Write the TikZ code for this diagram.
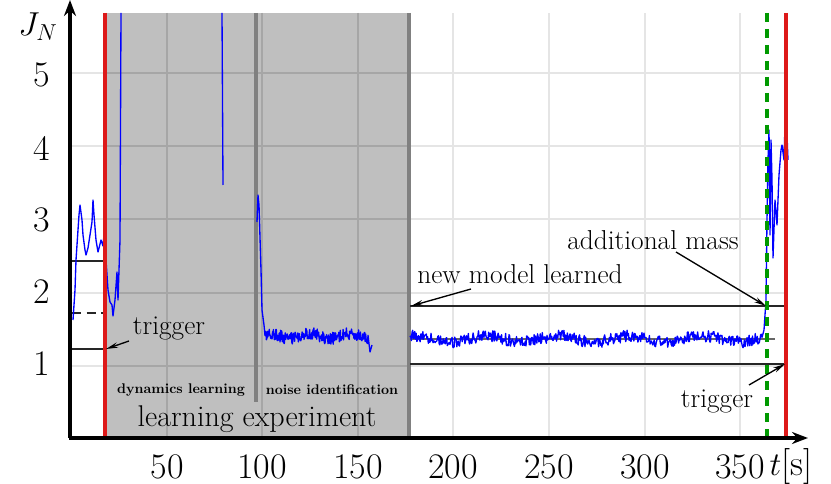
\documentclass[tikz,border=0pt]{standalone}
\usetikzlibrary{arrows.meta}
\begin{document}
\begin{tikzpicture}[x=0.75pt,y=-0.75pt,
  gridw/.style={draw=black!10,line width=1.2pt},
  gridd/.style={draw=black!35,line width=1.2pt},
  markline/.style={draw=black!85,line width=0.9pt},
  anno/.style={-{Stealth[length=9pt,width=4pt]},line width=1pt},
  curve/.style={blue,line width=1pt,line join=round},
  lbl/.style={font=\fontsize{20.5}{20.5}\selectfont,inner sep=0pt},
  tick/.style={font=\fontsize{27}{27}\selectfont,inner sep=0pt}]
\useasboundingbox (0,0) rectangle (831,484);
\pgfmathsetseed{7}
% grid (white part)
\foreach \x in {167,262,358,453,549,645,740} \draw[gridw] (\x,13) -- (\x,437);
\foreach \y in {73,146,219,293,366} \draw[gridw] (72,\y) -- (786,\y);
% gray region
\fill[black!25] (105,13) rectangle (410,437);
\foreach \x in {167,262,358} \draw[gridd] (\x,13) -- (\x,437);
\foreach \y in {73,146,219,293,366} \draw[gridd] (105,\y) -- (410,\y);
\draw[black!50,line width=3pt] (256,13) -- (256,402);
\draw[black!50,line width=3pt] (408.5,13) -- (408.5,437);
% marker lines
\draw[markline] (72,261) -- (103,261);
\draw[markline,dash pattern=on 7pt off 4pt] (72,313) -- (103,313);
\draw[markline] (72,349) -- (103,349);
\draw[markline] (410,306) -- (785,306);
\draw[draw=black!60,line width=0.8pt] (410,339) -- (775,339);
\draw[markline] (410,364) -- (786,364);
% blue curves
\draw[curve] (73,320) -- (75,290) -- (76,260) -- (77,245) -- (79,215) -- (80,205) -- (82,220) -- (83,235) -- (85,250) -- (86,255) -- (88,248) -- (90,235) -- (92,222) -- (93,200) -- (94,215) -- (96,240) -- (98,252) -- (99,248) -- (101,240) -- (103,246) -- (104,235) -- (106,260) -- (108,290) -- (110,302) -- (112,305) -- (113,316) -- (115,300) -- (117,272) -- (118,300) -- (119,270) -- (120,240) -- (121,13);
\draw[curve] (222,13) -- (223,185);
\draw[curve] (257,222) -- (258,195) -- (259,205) -- (261,270) -- (262,310) -- (264,325)
  -- plot[domain=265:368,samples=220] (\x,{336+6*rand+2.5*sin(\x*9)}) -- (370,352) -- (372,345);
\draw[curve] plot[domain=410:762,samples=520] (\x,{339+6*rand+3*sin(\x*5)})
  -- (764,330) -- (766,300) -- (767,220) -- (768,160) -- (769,130) -- (770,235) -- (771,140) -- (772,180) -- (773,258) -- (775,200) -- (777,225) -- (779,175) -- (781,150) -- (782,145) -- (784,160) -- (785,125) -- (786,110) -- (787,135) -- (788,160);
% red and green lines
\draw[red!85!black!90,line width=3pt] (105,13) -- (105,437);
\draw[red!85!black!90,line width=3pt] (786,13) -- (786,437);
\draw[green!60!black,line width=3pt,dash pattern=on 7pt off 5pt] (767,13) -- (767,437);
% axes
\draw[line width=3pt,-{Stealth[length=12pt,width=9pt]}] (70,438) -- (70,0);
\draw[line width=3pt,-{Stealth[length=12pt,width=9pt]}] (69,438) -- (808,438);
% labels
\node[tick] (jn) at (38,27) {$J_N$};
\foreach \v/\y in {5/75,4/148,3/220,2/292,1/364} \node[tick] at (42,\y) {\v};
\foreach \v/\x in {50/167,100/262,150/358,200/453,250/549,300/645,350/740} \node[tick] at (\x,467) {\v};
\node[tick] (ts) at (791,466) {$t$[s]};
\node[font=\bfseries\fontsize{10.5}{10.5}\selectfont,inner sep=0pt] (dl) at (181,390) {dynamics learning};
\node[font=\bfseries\fontsize{10.5}{10.5}\selectfont,inner sep=0pt] (ni) at (332,390) {noise identification};
\node[font=\fontsize{22.5}{22.5}\selectfont,inner sep=0pt] (le) at (257,419) {learning experiment};
\node[lbl] (t1) at (169,328) {trigger};
\node[lbl] (nm) at (520,274) {new model learned};
\node[lbl] (am) at (653,240) {additional mass};
\node[lbl] (t2) at (717,401) {trigger};
\coordinate (e1) at (106,349);
\coordinate (e2) at (411,306);
\coordinate (e3) at (766,306);
\coordinate (e4) at (785,364);
\draw[anno] (129,341) -- (e1);
\draw[anno] (471,289) -- (e2);
\draw[anno] (676,252) -- (e3);
\draw[anno] (749,385) -- (e4);
\end{tikzpicture}
\end{document}
